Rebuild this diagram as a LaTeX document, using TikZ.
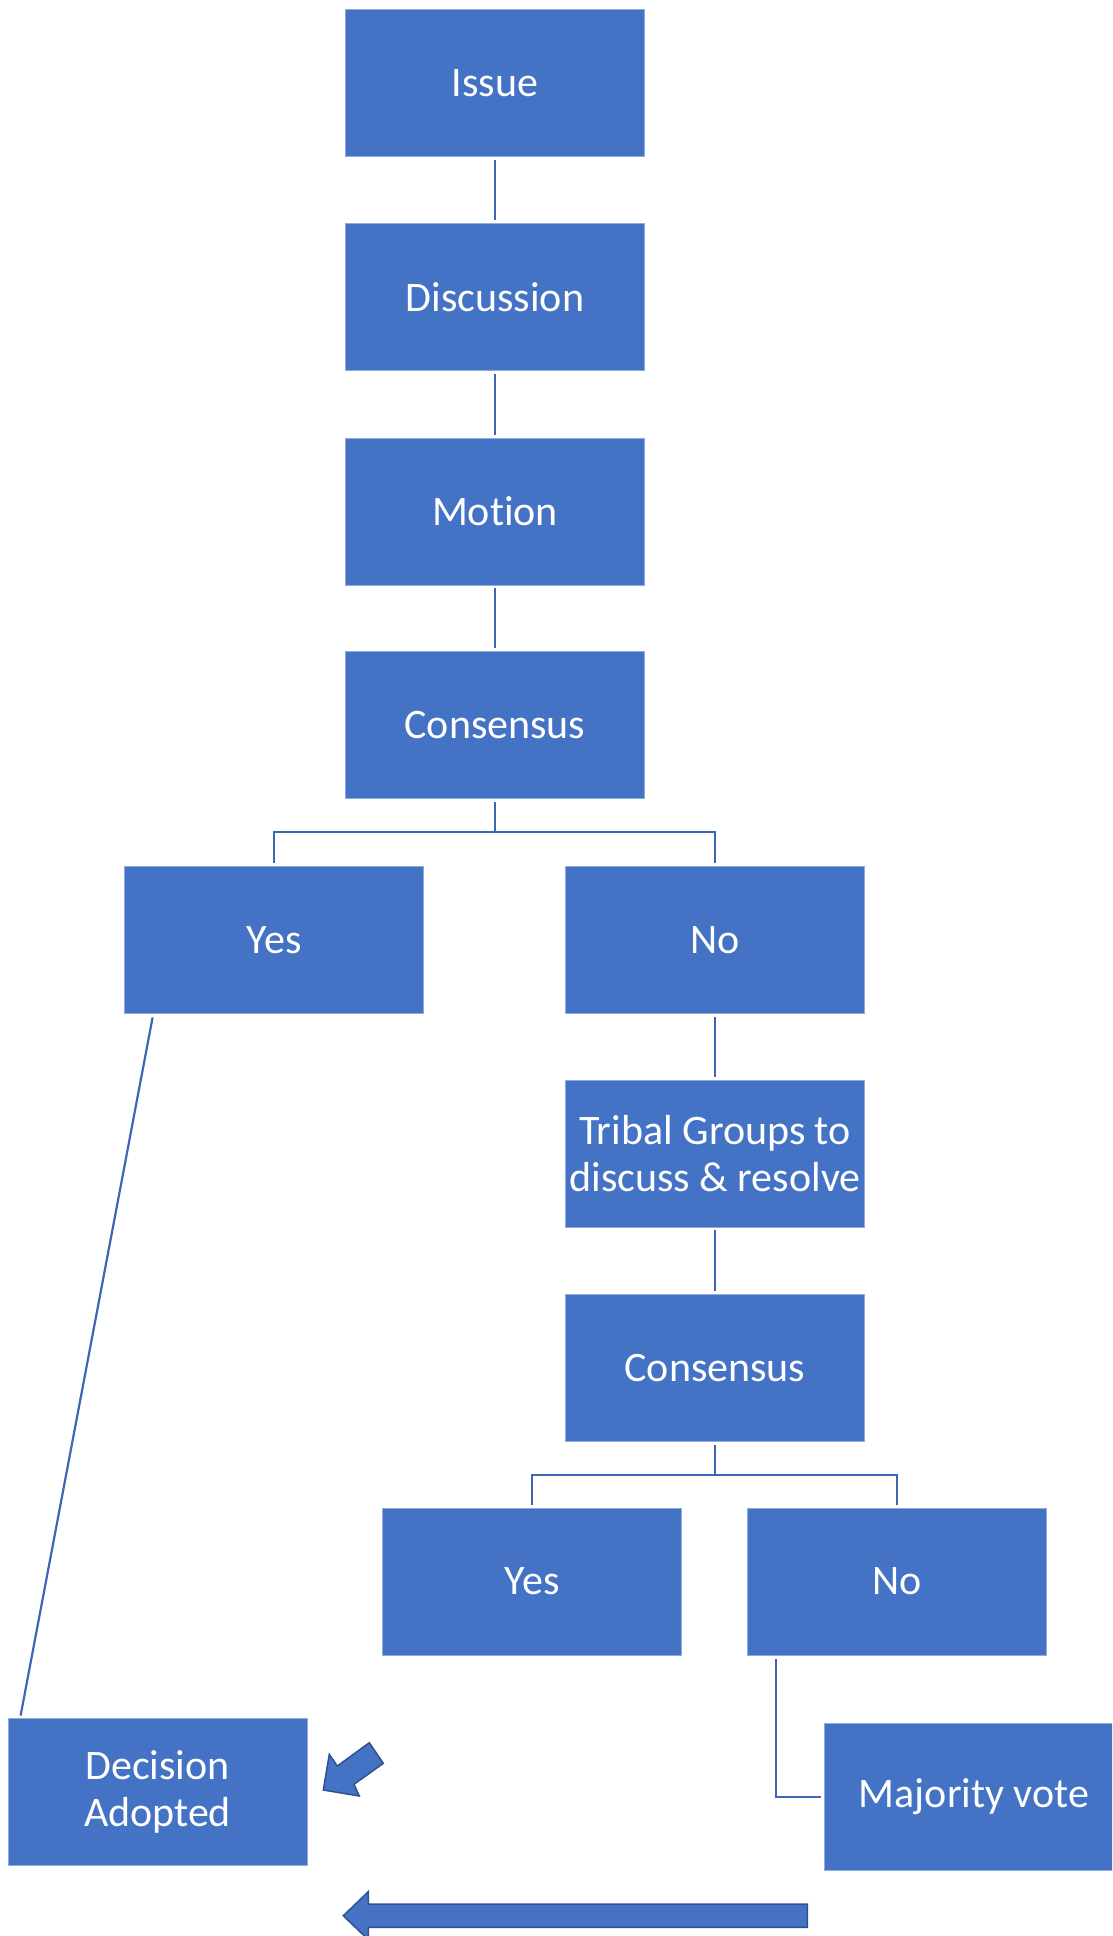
\documentclass[tikz,border=0pt]{standalone}
\usepackage{fontspec}
\setmainfont{Carlito}[RawFeature={-liga;-clig}]
\definecolor{boxblue}{HTML}{4472C4}
\definecolor{boxedge}{HTML}{8FAADC}
\definecolor{linkblue}{HTML}{3F66B3}
\definecolor{arrowedge}{HTML}{2F528F}
\tikzset{
  stepbox/.style={rectangle, fill=boxblue, draw=boxedge, line width=0.8pt,
    minimum width=299pt, minimum height=147pt, inner sep=0pt,
    text=white, align=center, font=\fontsize{42}{46.5}\selectfont},
  conn/.style={draw=linkblue, line width=2.2pt, shorten <=3pt, shorten >=3pt},
  blockarrow/.style={fill=boxblue, draw=arrowedge, line width=1.5pt, line join=miter}
}
\begin{document}
\begin{tikzpicture}[x=1pt, y=-1pt]
\useasboundingbox (0,0) rectangle (1112,1936);
\clip (0,0) rectangle (1112,1936);

\node[stepbox] (issue) at (495,83) {Issue};
\node[stepbox] (disc) at (495,296.8) {Discussion};
\node[stepbox] (motion) at (495,511.5) {Mo\kern0pt tion};
\node[stepbox] (cons1) at (495,725) {Consensus};
\node[stepbox] (yes1) at (274,940) {Yes};
\node[stepbox] (no1) at (715,940) {No};
\node[stepbox] (tribal) at (715,1153.5) {Tribal Groups to\\discuss \& resolve};
\node[stepbox] (cons2) at (715,1368) {Consensus};
\node[stepbox] (yes2) at (532,1581.5) {Yes};
\node[stepbox] (no2) at (897,1581.5) {No};
\node[stepbox] (maj) at (974,1797) {Majority vote};
\node[stepbox] (dec) at (157.5,1792) {Decision\\Adopted};

\coordinate (br1) at (495,832);
\coordinate (br2) at (715,1475);

\draw[conn] (issue.south) -- (disc.north);
\draw[conn] (disc.south) -- (motion.north);
\draw[conn] (motion.south) -- (cons1.north);
\draw[conn, shorten >=0pt] (cons1.south) -- (br1);
\draw[conn, shorten <=0pt] (br1) -| (yes1.north);
\draw[conn, shorten <=0pt] (br1) -| (no1.north);
\draw[conn] (no1.south) -- (tribal.north);
\draw[conn] (tribal.south) -- (cons2.north);
\draw[conn, shorten >=0pt] (cons2.south) -- (br2);
\draw[conn, shorten <=0pt] (br2) -| (yes2.north);
\draw[conn, shorten <=0pt] (br2) -| (no2.north);
\draw[conn, shorten <=0pt, shorten >=0pt] ([xshift=28.5pt,yshift=-3.5pt]yes1.south west) -- ([xshift=13pt,yshift=2.5pt]dec.north west);
\draw[conn, shorten <=0pt] ([xshift=29pt,yshift=-4pt]no2.south west) |- (maj.west);

% small block arrow pointing down-left
\draw[blockarrow] (323.3,1790) -- (329.3,1754.3) -- (337.3,1766) -- (369.3,1742.7)
  -- (383.3,1763.3) -- (354,1784.3) -- (359.3,1796) -- cycle;

% large block arrow pointing left
\draw[blockarrow] (343.3,1915.7) -- (368.3,1891.7) -- (368.3,1904) -- (807.3,1904)
  -- (807.3,1927.3) -- (368.3,1927.3) -- (368.3,1939.7) -- cycle;
\end{tikzpicture}
\end{document}
